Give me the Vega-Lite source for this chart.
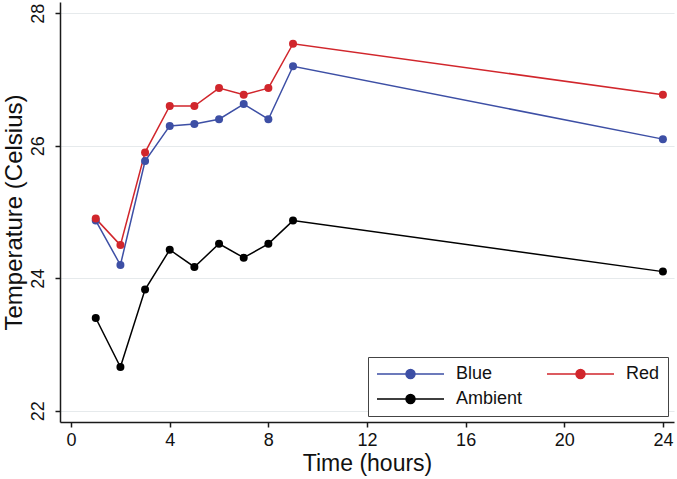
{
  "$schema": "https://vega.github.io/schema/vega-lite/v6.json",
  "autosize": "none",
  "width": 614,
  "height": 420,
  "padding": {"left": 60, "top": 2, "right": 3, "bottom": 57},
  "background": "white",
  "config": {
    "font": "Liberation Sans",
    "view": {"stroke": null},
    "axis": {"domainColor": "#1a1a1a", "domainWidth": 1.5, "tickColor": "#1a1a1a", "tickWidth": 1.5, "tickSize": 5, "labelColor": "#111", "titleColor": "#111", "labelFontSize": 18, "titleFontSize": 24, "titleFontWeight": "normal", "gridColor": "#e6eaec", "gridWidth": 1.2}
  },
  "data": {
    "values": [
      {"time": 1, "series": "Ambient", "temp": 23.40},
      {"time": 2, "series": "Ambient", "temp": 22.66},
      {"time": 3, "series": "Ambient", "temp": 23.83},
      {"time": 4, "series": "Ambient", "temp": 24.43},
      {"time": 5, "series": "Ambient", "temp": 24.17},
      {"time": 6, "series": "Ambient", "temp": 24.52},
      {"time": 7, "series": "Ambient", "temp": 24.31},
      {"time": 8, "series": "Ambient", "temp": 24.52},
      {"time": 9, "series": "Ambient", "temp": 24.87},
      {"time": 24, "series": "Ambient", "temp": 24.10},
      {"time": 1, "series": "Blue", "temp": 24.87},
      {"time": 2, "series": "Blue", "temp": 24.20},
      {"time": 3, "series": "Blue", "temp": 25.77},
      {"time": 4, "series": "Blue", "temp": 26.30},
      {"time": 5, "series": "Blue", "temp": 26.33},
      {"time": 6, "series": "Blue", "temp": 26.40},
      {"time": 7, "series": "Blue", "temp": 26.63},
      {"time": 8, "series": "Blue", "temp": 26.40},
      {"time": 9, "series": "Blue", "temp": 27.20},
      {"time": 24, "series": "Blue", "temp": 26.10},
      {"time": 1, "series": "Red", "temp": 24.90},
      {"time": 2, "series": "Red", "temp": 24.50},
      {"time": 3, "series": "Red", "temp": 25.90},
      {"time": 4, "series": "Red", "temp": 26.60},
      {"time": 5, "series": "Red", "temp": 26.60},
      {"time": 6, "series": "Red", "temp": 26.87},
      {"time": 7, "series": "Red", "temp": 26.77},
      {"time": 8, "series": "Red", "temp": 26.87},
      {"time": 9, "series": "Red", "temp": 27.54},
      {"time": 24, "series": "Red", "temp": 26.77}
    ]
  },
  "mark": {"type": "line", "strokeWidth": 1.5, "point": {"filled": true, "size": 64, "opacity": 1}},
  "encoding": {
    "x": {
      "field": "time", "type": "quantitative",
      "scale": {"domain": [-0.45, 24.45], "nice": false, "zero": false},
      "axis": {"values": [0, 4, 8, 12, 16, 20, 24], "grid": false, "title": "Time (hours)", "titleFontSize": 23, "labelPadding": 4, "titlePadding": 3, "labelFlush": false}
    },
    "y": {
      "field": "temp", "type": "quantitative",
      "scale": {"domain": [21.83, 28.17], "nice": false, "zero": false},
      "axis": {"values": [22, 24, 26, 28], "grid": true, "title": "Temperature (Celsius)", "labelAngle": -90, "labelAlign": "center", "labelBaseline": "alphabetic", "labelPadding": 12, "titlePadding": 3, "labelFlush": false}
    },
    "color": {
      "field": "series", "type": "nominal",
      "scale": {"domain": ["Blue", "Red", "Ambient"], "range": ["#3d4fa5", "#d1262c", "#000000"]},
      "legend": {
        "title": null,
        "orient": "none",
        "legendX": 308,
        "legendY": 355,
        "columns": 2,
        "direction": "horizontal",
        "strokeColor": "#444444",
        "fillColor": "white",
        "padding": 8,
        "symbolType": "M-1,0L1,0M0.134,0A0.134,0.134,0,1,1,-0.134,0A0.134,0.134,0,1,1,0.134,0Z",
        "symbolSize": 4489,
        "symbolStrokeWidth": 1.5,
        "symbolOpacity": 1,
        "clipHeight": 18,
        "labelFontSize": 18,
        "labelColor": "#111",
        "labelOffset": 11,
        "columnPadding": 23,
        "rowPadding": 7,
        "encode": {
          "symbols": {"update": {"fill": {"scale": "color", "field": "value"}, "stroke": {"scale": "color", "field": "value"}}}
        }
      }
    },
    "order": {"field": "time", "type": "quantitative"}
  }
}
